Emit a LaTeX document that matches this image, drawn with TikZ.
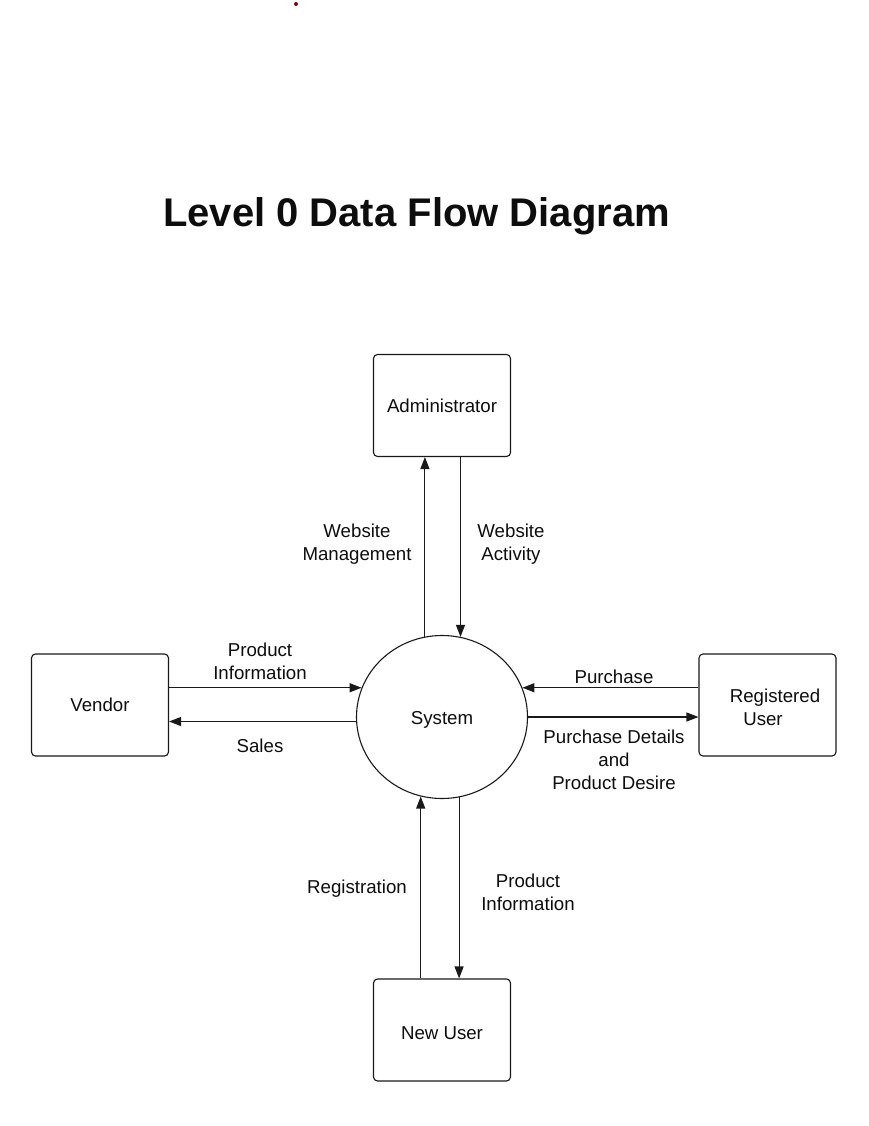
\documentclass[tikz,border=0pt]{standalone}
\usepackage{fontspec}
\setmainfont{Liberation Sans}
\usetikzlibrary{arrows.meta,shapes.geometric}
\begin{document}
\begin{tikzpicture}[x=1pt,y=-1pt,
  entity/.style={draw=black!90, line width=1.1pt, rounded corners=4pt, minimum width=137pt, minimum height=102pt, inner sep=0pt},
  proc/.style={draw=black!90, line width=1.1pt, ellipse, minimum width=171pt, minimum height=163pt, inner sep=0pt},
  flow/.style={draw=black!90, line width=1.1pt, -{Triangle[length=12pt,width=9pt]}},
  lbl/.style={align=center, font=\fontsize{18.67}{23}\selectfont, inner sep=0pt},
  every node/.style={text=black!95}]
\useasboundingbox (0,0) rectangle (868,1126);
\fill[fill={rgb,255:red,139;green,0;blue,0}] (296,4) circle (2pt);
\node[font=\fontsize{40}{48}\selectfont\bfseries, anchor=base] (title) at (416.5,226) {Level 0 Data Flow Diagram};

\node[entity, font=\fontsize{18.67}{23}\selectfont] (admin) at (442,405.5) {Administrator};
\node[entity, font=\fontsize{18.67}{23}\selectfont] (vendor) at (100,705) {Vendor};
\node[entity, font=\fontsize{18.67}{23}\selectfont, align=center, text height=40.4pt, text depth=0pt] (reg) at (767.5,705) {\hspace*{15pt}Registered\\\hspace*{-9pt}User};
\node[entity, font=\fontsize{18.67}{23}\selectfont, text height=19.4pt, text depth=0pt] (new) at (442,1030) {New User};
\node[proc, font=\fontsize{18.67}{23}\selectfont, text height=16.5pt, text depth=1pt] (sys) at (442,717) {System};

% Administrator flows
\draw[flow] (sys.102) -- (sys.102 |- admin.south);
\draw[flow] (sys.77.3 |- admin.south) -- (sys.77.3);
% Vendor flows
\draw[flow] (sys.160 -| vendor.east) -- (sys.160);
\draw[flow] (sys.183.4) -- (sys.183.4 -| vendor.east);
% Registered user flows
\draw[flow] (sys.20 -| reg.west) -- (sys.20);
\draw[flow] (sys.-0.7) -- (sys.-0.7 -| reg.west);
% New user flows
\draw[flow] (sys.255.8 |- new.north) -- (sys.255.8);
\draw[flow] (sys.282.7) -- (sys.282.7 |- new.north);

\node[lbl] (l1) at (357,544) {Website\\Management};
\node[lbl] (l2) at (511,544) {Website\\Activity};
\node[lbl] (l3) at (260,661) {Product\\Information};
\node[lbl] (l4) at (260,746) {Sales};
\node[lbl] (l5) at (614,677) {Purchase};
\node[lbl] (l6) at (614,760) {Purchase Details\\and\\Product Desire};
\node[lbl] (l7) at (357,889) {Registration};
\node[lbl] (l8) at (528,892) {Product\\Information};
\end{tikzpicture}
\end{document}
